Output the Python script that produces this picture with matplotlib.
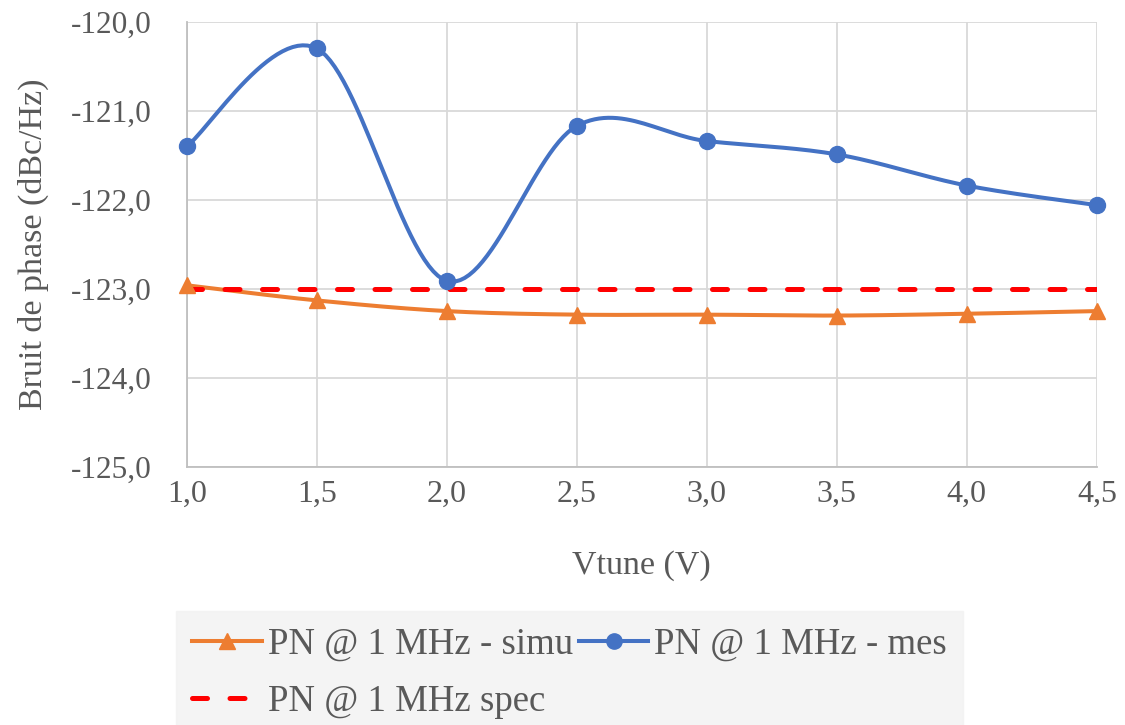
import numpy as np
import matplotlib.pyplot as plt
from matplotlib.ticker import FuncFormatter

plt.rcParams['font.family'] = ['Liberation Serif', 'DejaVu Serif']

vtune = [1.0, 1.5, 2.0, 2.5, 3.0, 3.5, 4.0, 4.5]
pn_simu = [-122.96, -123.13, -123.25, -123.29, -123.29, -123.30, -123.28, -123.25]
pn_mes = [-121.40, -120.30, -122.91, -121.17, -121.34, -121.49, -121.84, -122.06]
pn_spec = [-123.0] * len(vtune)


def smooth(x, y, n=30):
    # excel-like smoothed line: cubic bezier through the points
    x = np.asarray(x, float)
    y = np.asarray(y, float)
    px = np.concatenate([[x[0]], x, [x[-1]]])
    py = np.concatenate([[y[0]], y, [y[-1]]])
    xs, ys = [], []
    t = np.linspace(0, 1, n)
    for i in range(1, len(px) - 2):
        p0 = np.array([px[i], py[i]])
        p3 = np.array([px[i + 1], py[i + 1]])
        c1 = p0 + (p3 - np.array([px[i - 1], py[i - 1]])) / 6
        c2 = p3 - (np.array([px[i + 2], py[i + 2]]) - p0) / 6
        b = ((1 - t) ** 3)[:, None] * p0 + (3 * (1 - t) ** 2 * t)[:, None] * c1 \
            + (3 * (1 - t) * t ** 2)[:, None] * c2 + (t ** 3)[:, None] * p3
        xs.extend(b[:, 0])
        ys.extend(b[:, 1])
    return xs, ys


fig = plt.figure(figsize=(11.25, 7.25), dpi=100)
ax = fig.add_axes([0.166, 0.356, 0.809, 0.614])

orange = '#ed7d31'
blue = '#4472c4'
grey = '#595959'

sx, sy = smooth(vtune, pn_simu)
ax.plot(sx, sy, color=orange, lw=2.9, zorder=3)
ax.plot(vtune, pn_simu, '^', color=orange, ms=11, zorder=4, clip_on=False)
l_simu, = ax.plot([], [], '-^', color=orange, lw=2.9, ms=11, label='PN @ 1 MHz - simu')

mx, my = smooth(vtune, pn_mes)
ax.plot(mx, my, color=blue, lw=2.9, zorder=3)
ax.plot(vtune, pn_mes, 'o', color=blue, ms=11.5, zorder=4, clip_on=False)
l_mes, = ax.plot([], [], '-o', color=blue, lw=2.9, ms=11, label='PN @ 1 MHz - mes')

l_spec, = ax.plot(vtune, pn_spec, '--', color='#ff0000', lw=3.6, dashes=(3, 4.5),
                  dash_capstyle='round', zorder=3, label='PN @ 1 MHz spec')

ax.set_xlim(1.0, 4.5)
ax.set_ylim(-125, -120)
ax.set_xticks(np.arange(1.0, 4.51, 0.5))
ax.set_yticks(np.arange(-125, -119.9, 1.0))
fmt = FuncFormatter(lambda v, p: f'{v:.1f}'.replace('.', ','))
ax.xaxis.set_major_formatter(fmt)
ax.yaxis.set_major_formatter(fmt)
ax.grid(True, color='#d9d9d9', lw=1.3)
ax.set_axisbelow(True)
for side in ['top', 'right']:
    ax.spines[side].set_visible(False)
for side in ['left', 'bottom']:
    ax.spines[side].set_color('#bfbfbf')
    ax.spines[side].set_linewidth(1.3)
ax.tick_params(length=0, labelsize=23, colors=grey)
ax.tick_params(axis='y', labelsize=22.5, pad=25)
ax.tick_params(axis='x', pad=9)

ax.set_xlabel('Vtune (V)', fontsize=24.5, color=grey, labelpad=30)
ax.set_ylabel('Bruit de phase (dBc/Hz)', fontsize=24.5, color=grey, labelpad=16)

leg = fig.legend(handles=[l_simu, l_spec, l_mes], ncol=2, loc='lower left',
                 bbox_to_anchor=(0.14, -0.04), fontsize=26.5, frameon=True,
                 fancybox=False, handlelength=1.9, handletextpad=0.15,
                 columnspacing=0.15, labelspacing=0.62, borderpad=0.45)
leg.get_frame().set_facecolor('#f2f2f2')
leg.get_frame().set_edgecolor('#f2f2f2')
for t in leg.get_texts():
    t.set_color(grey)

fig.savefig('out.png', dpi=100)
